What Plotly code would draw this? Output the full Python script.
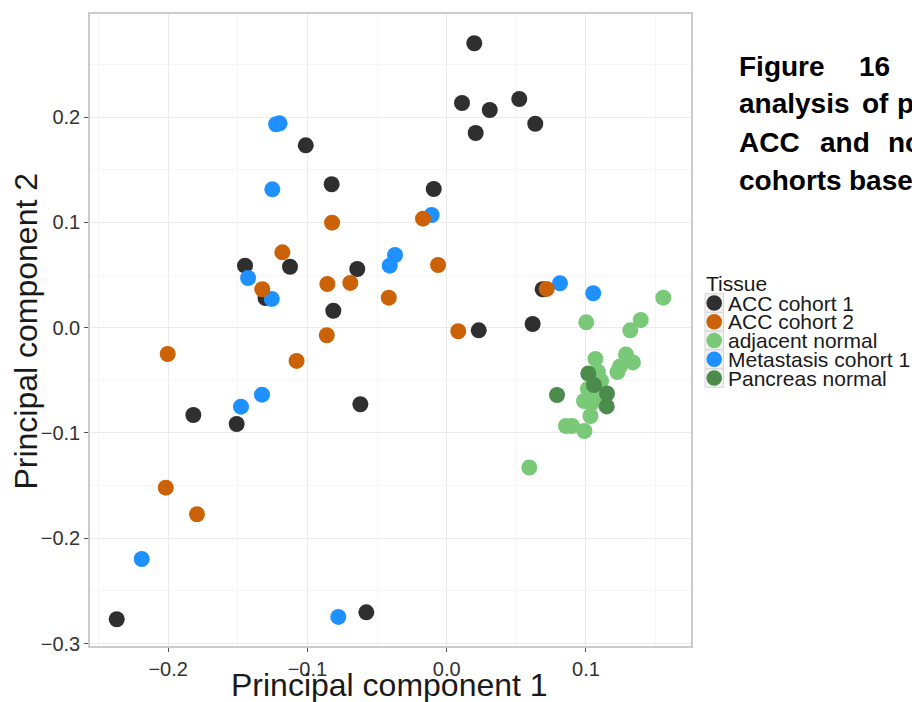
import plotly.graph_objects as go

# ---- data: PCA scores per tissue group ----
tissues = ["ACC cohort 1", "ACC cohort 2", "adjacent normal",
           "Metastasis cohort 1", "Pancreas normal"]
colors = {
    "ACC cohort 1": "#2F2F2F",
    "ACC cohort 2": "#CC6207",
    "adjacent normal": "#79C979",
    "Metastasis cohort 1": "#1E90FF",
    "Pancreas normal": "#4B8B4B",
}

acc1_pc1 = [0.0198, 0.0110, 0.0309, 0.0521, 0.0636, 0.0208, -0.1012, -0.0826,
            -0.0093, -0.1448, -0.1125, -0.0642, -0.0814, -0.1301, 0.0689, 0.0230,
            0.0617, -0.1819, -0.1508, -0.0620, -0.2369, -0.0577]
acc1_pc2 = [0.2701, 0.2134, 0.2067, 0.2172, 0.1937, 0.1849, 0.1732, 0.1362,
            0.1317, 0.0589, 0.0579, 0.0557, 0.0161, 0.0282, 0.0365, -0.0025,
            0.0035, -0.0829, -0.0915, -0.0727, -0.2769, -0.2703]

acc2_pc1 = [-0.2003, -0.2017, -0.1793, -0.1324, -0.1180, -0.1078, -0.0823, -0.0857,
            -0.0692, -0.0861, -0.0416, -0.0170, -0.0062, 0.0083, 0.0718]
acc2_pc2 = [-0.0250, -0.1519, -0.1772, 0.0365, 0.0716, -0.0316, 0.0997, 0.0415,
            0.0425, -0.0072, 0.0285, 0.1035, 0.0595, -0.0034, 0.0368]

adj_pc1 = [0.1555, 0.1393, 0.1318, 0.1002, 0.1068, 0.1287, 0.1337, 0.1244,
           0.1226, 0.1086, 0.1108, 0.1014, 0.1079, 0.0986, 0.1043, 0.1032,
           0.0856, 0.0900, 0.0989, 0.0593]
adj_pc2 = [0.0285, 0.0073, -0.0025, 0.0051, -0.0297, -0.0255, -0.0330, -0.0368,
           -0.0421, -0.0421, -0.0506, -0.0582, -0.0649, -0.0696, -0.0715, -0.0839,
           -0.0934, -0.0934, -0.0981, -0.1328]

met_pc1 = [-0.1225, -0.1200, -0.1252, -0.1426, -0.1256, -0.0108, -0.0371, -0.0409,
           0.0813, 0.1052, -0.1477, -0.1326, -0.2190, -0.0778]
met_pc2 = [0.1932, 0.1941, 0.1314, 0.0472, 0.0273, 0.1070, 0.0690, 0.0589,
           0.0422, 0.0327, -0.0750, -0.0636, -0.2197, -0.2747]

pan_pc1 = [0.1017, 0.1057, 0.0792, 0.1151, 0.1149]
pan_pc2 = [-0.0435, -0.0544, -0.0639, -0.0625, -0.0748]

x_ticks = [-0.2, -0.1, 0.0, 0.1]
x_tick_labels = ["\u22120.2", "\u22120.1", "0.0", "0.1"]
y_ticks = [-0.3, -0.2, -0.1, 0.0, 0.1, 0.2]
y_tick_labels = ["\u22120.3", "\u22120.2", "\u22120.1", "0.0", "0.1", "0.2"]

series = {
    "ACC cohort 1": (acc1_pc1, acc1_pc2),
    "Metastasis cohort 1": (met_pc1, met_pc2),
    "ACC cohort 2": (acc2_pc1, acc2_pc2),
    "adjacent normal": (adj_pc1, adj_pc2),
    "Pancreas normal": (pan_pc1, pan_pc2),
}

caption_lines = [
    [("Figure", 737), ("16", 857)],
    [("analysis", 737), ("of", 860), ("p", 895)],
    [("ACC", 737), ("and", 817.5), ("no", 885.5)],
    [("cohorts", 737), ("base", 847)],
]
caption_centers = [66.5, 104.0, 142.5, 180.5]

# ---- layout geometry (pixels) ----
W, H = 912, 702
ML, MR, MT, MB = 90, 221, 14, 56
PW, PH = W - ML - MR, H - MT - MB
FONT = "Liberation Sans, Arial, sans-serif"


def paper_x(px):
    return (px - ML) / PW


def paper_y(py):
    return (H - MB - py) / PH


fig = go.Figure()
for name, (xs, ys) in series.items():
    fig.add_trace(go.Scatter(
        x=xs, y=ys, mode="markers", name=name, showlegend=False,
        marker=dict(size=16, color=colors[name], line=dict(width=0)),
    ))

annotations = []
shapes = []

# caption text block on the right
for words, cy in zip(caption_lines, caption_centers):
    for word, left in words:
        annotations.append(dict(
            text=word, xref="paper", yref="paper",
            x=paper_x(left), y=paper_y(cy), xanchor="left", yanchor="middle",
            showarrow=False,
            font=dict(family=FONT, size=28, color="#000000", weight="bold"),
        ))

# legend: title, grey keys with a dot, labels
annotations.append(dict(
    text="Tissue", xref="paper", yref="paper",
    x=paper_x(704), y=paper_y(283.5), xanchor="left", yanchor="middle",
    showarrow=False, font=dict(family=FONT, size=21, color="#1A1A1A"),
))
row0, row_step = 303.0, 18.75
for i, name in enumerate(tissues):
    cy = row0 + i * row_step
    shapes.append(dict(
        type="rect", xref="paper", yref="paper",
        x0=paper_x(705), x1=paper_x(723.5),
        y0=paper_y(cy - 9.3), y1=paper_y(cy + 9.3),
        fillcolor="#F2F2F2", line=dict(color="#D6D6D6", width=1), layer="below",
    ))
    shapes.append(dict(
        type="circle", xref="paper", yref="paper",
        xsizemode="pixel", ysizemode="pixel",
        xanchor=paper_x(714.2), yanchor=paper_y(cy),
        x0=-7.8, x1=7.8, y0=-7.8, y1=7.8,
        fillcolor=colors[name], line=dict(width=0),
    ))
    annotations.append(dict(
        text=name, xref="paper", yref="paper",
        x=paper_x(725.5), y=paper_y(cy), xanchor="left", yanchor="middle",
        showarrow=False, font=dict(family=FONT, size=21, color="#1A1A1A"),
    ))

# axis titles
annotations.append(dict(
    text="Principal component 1", xref="paper", yref="paper",
    x=paper_x(389.5), y=paper_y(685), xanchor="center", yanchor="middle",
    showarrow=False, font=dict(family=FONT, size=32, color="#1A1A1A"),
))
annotations.append(dict(
    text="Principal component 2", xref="paper", yref="paper",
    x=paper_x(25.6), y=paper_y(331), xanchor="center", yanchor="middle",
    textangle=-90, showarrow=False,
    font=dict(family=FONT, size=32, color="#1A1A1A"),
))

axis_common = dict(
    showgrid=True, gridcolor="#EBEBEB", gridwidth=1.3,
    zeroline=False, showline=True, mirror=True,
    linecolor="#CBCBCB", linewidth=1.6,
    ticks="outside", ticklen=4, tickwidth=1, tickcolor="#555555",
    tickfont=dict(family=FONT, size=20, color="#333333"),
    minor=dict(dtick=0.05, showgrid=True, gridcolor="#F6F6F6", gridwidth=1),
)

fig.update_layout(
    width=W, height=H,
    margin=dict(l=ML, r=MR, t=MT, b=MB, pad=0),
    paper_bgcolor="#FFFFFF", plot_bgcolor="#FFFFFF",
    showlegend=False,
    xaxis=dict(range=[-0.2561, 0.1754], tickvals=x_ticks, ticktext=x_tick_labels,
               tick0=0, dtick=0.1, **axis_common),
    yaxis=dict(range=[-0.3023, 0.2979], tickvals=y_ticks, ticktext=y_tick_labels,
               tick0=0, dtick=0.1, **axis_common),
    annotations=annotations,
    shapes=shapes,
)

fig.write_html("out.html")
